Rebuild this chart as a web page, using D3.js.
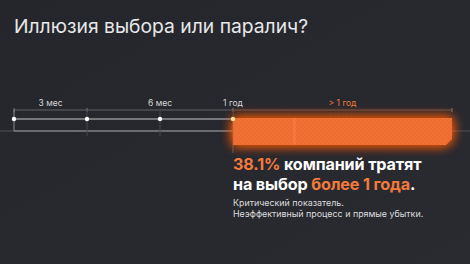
<!DOCTYPE html>
<html><head><meta charset="utf-8">
<script src="https://cdn.jsdelivr.net/npm/d3@7"></script>
<style>
html,body{margin:0;padding:0;background:#26272c;}
svg{display:block;}
</style></head>
<body><div id="chart"></div>
<script>
const title = "Иллюзия выбора или паралич?";
const tickLabels = ["3 мес", "6 мес", "1 год", "> 1 год"];
const tickAt = [0.5, 2, 3, 4.5];
const dotAt = [0, 1, 2, 3];
const barStart = 3, barEnd = 6;
const shareValue = 38.1;
const line2 = ["на выбор ", "более 1 года", "."];
const subText = ["Критический показатель.", "Неэффективный процесс и прямые убытки."];

const W = 470, H = 264;
const svg = d3.select("#chart").append("svg").attr("width", W).attr("height", H);
const defs = svg.append("defs");
const bg = defs.append("linearGradient").attr("id","bg").attr("x1",0).attr("x2",1).attr("y1",0).attr("y2",1);
bg.append("stop").attr("offset","0").attr("stop-color","#25262b");
bg.append("stop").attr("offset","1").attr("stop-color","#2a2b30");
svg.append("rect").attr("width",W).attr("height",H).attr("fill","url(#bg)");

const glow = defs.append("filter").attr("id","glow").attr("x","-20%").attr("y","-100%").attr("width","140%").attr("height","300%");
glow.append("feGaussianBlur").attr("in","SourceGraphic").attr("stdDeviation",6).attr("result","b");
const fm = glow.append("feMerge");
fm.append("feMergeNode").attr("in","b");
fm.append("feMergeNode").attr("in","b");

const pat = defs.append("pattern").attr("id","chk").attr("width",4).attr("height",4).attr("patternUnits","userSpaceOnUse");
pat.append("rect").attr("width",4).attr("height",4).attr("fill","#ef6b30");
pat.append("rect").attr("width",2).attr("height",2).attr("fill","#f07136");
pat.append("rect").attr("x",2).attr("y",2).attr("width",2).attr("height",2).attr("fill","#f07136");

const x = d3.scaleLinear().domain([0, 6]).range([14, 452]);
const yBracket = 110, yTop = 119, yBottom = 131, barTop = 118, barBottom = 145;
const ff = "Inter, 'Noto Sans', sans-serif";

svg.append("text").attr("x",14).attr("y",33).text(title)
  .attr("fill","#e8e8ea").attr("font-family",ff).attr("font-size",19.3).attr("font-weight",400);

// bottom base line full width
svg.append("line").attr("x1",0).attr("x2",W).attr("y1",yBottom).attr("y2",yBottom).attr("stroke","#505156").attr("stroke-width",1);
svg.append("line").attr("x1",x(0)).attr("x2",x(barStart)).attr("y1",yBottom).attr("y2",yBottom).attr("stroke","#9a9a9e").attr("stroke-width",1);

// bracket line
svg.append("line").attr("x1",x(0)).attr("x2",x(barStart)).attr("y1",yBracket).attr("y2",yBracket).attr("stroke","#4e4f54").attr("stroke-width",1.5);
svg.append("line").attr("x1",x(barStart)).attr("x2",x(barEnd)).attr("y1",yBracket).attr("y2",yBracket).attr("stroke","#5a4a42").attr("stroke-width",1.5);
[0,1,barStart,barEnd].forEach(d=>{
  svg.append("line").attr("x1",x(d)).attr("x2",x(d)).attr("y1",yBracket-2).attr("y2",yBracket+2).attr("stroke","#77787c").attr("stroke-width",1);
});

// vertical guides
dotAt.forEach(d=>{
  svg.append("line").attr("x1",x(d)).attr("x2",x(d)).attr("y1",yBracket).attr("y2",d===0?yBottom:yBottom+5)
    .attr("stroke", d===0?"#8a8a8e":"#45464b").attr("stroke-width",1);
});

// top line
svg.append("line").attr("x1",x(0)).attr("x2",x(barStart)).attr("y1",yTop).attr("y2",yTop).attr("stroke","#c8c8cc").attr("stroke-width",1.2);

// bar with glow
const bx0 = x(barStart), bx1 = x(barEnd), ch = 6;
const barPath = `M${bx0},${barTop} L${bx1},${barTop} L${bx1},${barBottom-ch} L${bx1-ch},${barBottom} L${bx0},${barBottom} Z`;
svg.append("path").attr("d",barPath).attr("fill","#ff5a10").attr("opacity",0.9).attr("filter","url(#glow)");
svg.append("path").attr("d",barPath).attr("fill","url(#chk)");
svg.append("rect").attr("x",x(3.82)).attr("y",barTop).attr("width",3).attr("height",barBottom-barTop).attr("fill","#f58a50").attr("opacity",0.35);
svg.append("line").attr("x1",bx0).attr("x2",bx0).attr("y1",barTop).attr("y2",barBottom+8).attr("stroke","#b07050").attr("stroke-width",1).attr("opacity",0.6);

// dots
svg.selectAll("circle.dot").data(dotAt).join("circle").attr("class","dot")
  .attr("cx",d=>x(d)).attr("cy",yTop).attr("r",2.2)
  .attr("fill",(d)=>d===barStart?"#ffe0a0":"#ffffff");

// tick labels
svg.selectAll("text.tl").data(tickLabels).join("text").attr("class","tl")
  .attr("x",(d,i)=>x(tickAt[i])).attr("y",106).attr("text-anchor","middle")
  .attr("font-family",ff).attr("font-size",8.5)
  .attr("fill",(d,i)=>i===3?"#f07a3a":"#d6d6d8").text(d=>d);

// main statement
const fs = 16.2;
const t1 = svg.append("text").attr("x",x(barStart)).attr("y",170).attr("font-family",ff).attr("font-size",fs).attr("font-weight",700).attr("letter-spacing",-0.15);
t1.append("tspan").attr("fill","#f47a3c").text(d3.format(".1f")(shareValue)+"%");
t1.append("tspan").attr("fill","#ffffff").text(" компаний тратят");
const t2 = svg.append("text").attr("x",x(barStart)).attr("y",189.8).attr("font-family",ff).attr("font-size",fs).attr("font-weight",700).attr("letter-spacing",-0.15);
line2.forEach((s,i)=>t2.append("tspan").attr("fill",i===1?"#f47a3c":"#ffffff").text(s));

svg.selectAll("text.sub").data(subText).join("text").attr("class","sub")
  .attr("x",x(barStart)).attr("y",(d,i)=>205.5+i*11.3)
  .attr("font-family",ff).attr("font-size",8.9).attr("fill","#dcdcde").text(d=>d);
</script>
</body></html>
